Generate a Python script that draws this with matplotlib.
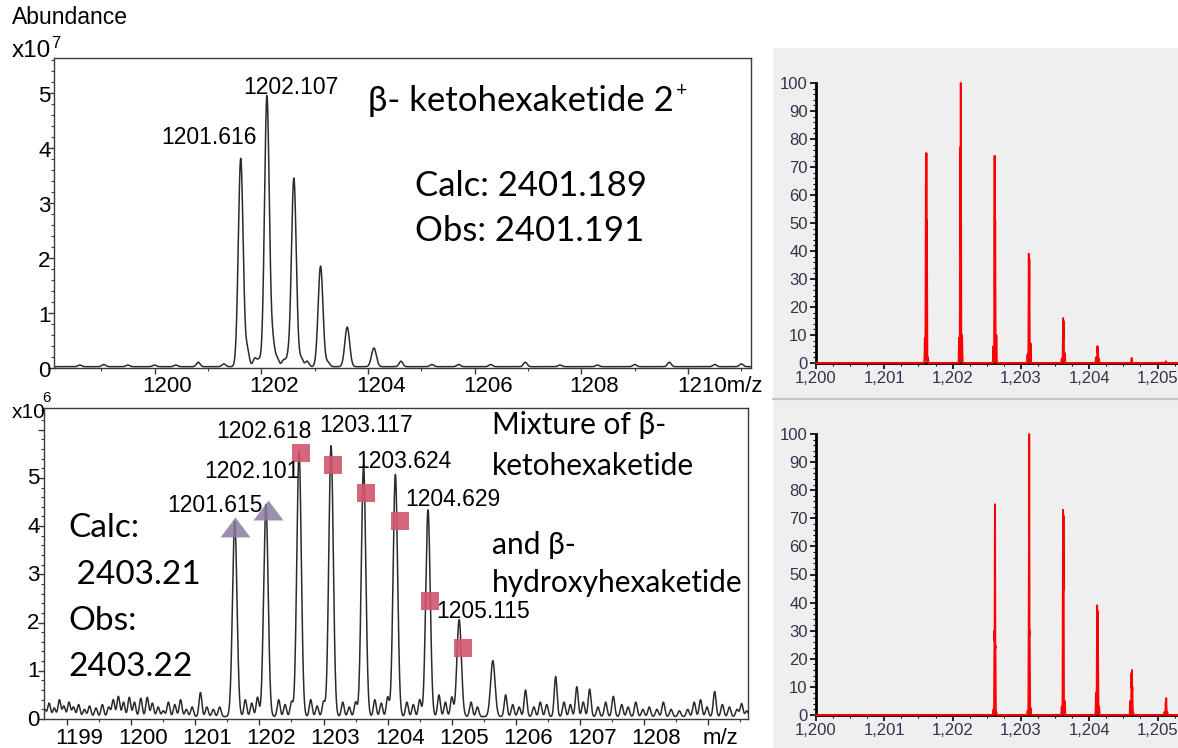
import numpy as np
import matplotlib
matplotlib.use("Agg")
import matplotlib.pyplot as plt
from matplotlib.patches import Rectangle
from matplotlib.lines import Line2D
from matplotlib.path import Path
from matplotlib.ticker import MultipleLocator, FixedLocator, NullFormatter, FuncFormatter

# ---------------- experimental spectrum: beta-ketohexaketide 2+ (abundance x1e7)
keto_peak_mz = [1201.616, 1202.107, 1202.612, 1203.112, 1203.612, 1204.112]
keto_peak_int = [3.79, 4.93, 3.43, 1.83, 0.72, 0.34]
keto_minor_mz = [1198.6, 1199.05, 1199.5, 1200.0, 1200.4, 1200.82, 1201.3,
                 1201.74, 1201.88, 1201.96, 1202.22, 1202.3, 1202.42, 1202.5,
                 1202.75, 1202.86, 1203.25, 1204.62, 1205.2, 1205.7, 1206.3,
                 1206.95, 1207.6, 1208.3, 1209.0, 1209.65, 1210.5, 1211.0]
keto_minor_int = [0.03, 0.04, 0.03, 0.03, 0.03, 0.08, 0.05,
                  0.30, 0.15, 0.12, 0.40, 0.15, 0.12, 0.14,
                  0.15, 0.10, 0.08, 0.10, 0.04, 0.04, 0.04,
                  0.08, 0.03, 0.03, 0.04, 0.08, 0.04, 0.05]
keto_label_mz = ["1201.616", "1202.107"]

# ---------------- experimental spectrum: keto / hydroxy mixture (abundance x1e6)
mix_peak_mz = [1201.615, 1202.101, 1202.618, 1203.117, 1203.624, 1204.12,
               1204.629, 1205.115, 1205.64]
mix_peak_int = [4.05, 4.40, 5.50, 5.62, 5.21, 5.02, 4.29, 2.01, 1.16]
mix_noise_mz = [1198.65, 1198.72, 1198.80, 1198.88, 1198.95, 1199.03, 1199.10,
                1199.18, 1199.27, 1199.35, 1199.45, 1199.55, 1199.65, 1199.72,
                1199.80, 1199.88, 1199.97, 1200.05, 1200.15, 1200.25, 1200.33,
                1200.42, 1200.50, 1200.58, 1200.68, 1200.77, 1200.86, 1200.95,
                1201.08, 1201.18, 1201.28, 1201.38,
                1201.78, 1201.88, 1201.97, 1202.30, 1202.40, 1202.50, 1202.80,
                1202.90, 1203.00, 1203.30, 1203.40, 1203.50, 1203.80, 1203.90,
                1204.00, 1204.30, 1204.40, 1204.50, 1204.80, 1204.90, 1205.00,
                1205.30, 1205.40,
                1205.84, 1205.95, 1206.05, 1206.15, 1206.28, 1206.38, 1206.48,
                1206.62, 1206.75, 1206.85, 1206.95, 1207.05, 1207.15, 1207.28,
                1207.40, 1207.52, 1207.65, 1207.75, 1207.87, 1207.98, 1208.08,
                1208.20, 1208.30, 1208.42, 1208.55, 1208.68, 1208.78, 1208.88,
                1208.98, 1209.10, 1209.22, 1209.33, 1209.45, 1209.52, 1209.60]
mix_noise_int = [0.15, 0.28, 0.18, 0.35, 0.22, 0.30, 0.20,
                 0.25, 0.15, 0.22, 0.18, 0.25, 0.20, 0.35,
                 0.42, 0.30, 0.40, 0.30, 0.38, 0.40, 0.28,
                 0.20, 0.12, 0.30, 0.25, 0.35, 0.15, 0.20,
                 0.50, 0.20, 0.15, 0.20,
                 0.35, 0.28, 0.40, 0.35, 0.25, 0.30, 0.35,
                 0.22, 0.30, 0.30, 0.20, 0.30, 0.35, 0.28,
                 0.40, 0.30, 0.25, 0.35, 0.45, 0.30, 0.40,
                 0.30, 0.20,
                 0.45, 0.25, 0.20, 0.55, 0.20, 0.30, 0.25,
                 0.83, 0.30, 0.25, 0.62, 0.30, 0.57, 0.20,
                 0.30, 0.42, 0.25, 0.20, 0.30, 0.15, 0.20,
                 0.15, 0.30, 0.15, 0.12, 0.15, 0.30, 0.35,
                 0.20, 0.52, 0.25, 0.20, 0.15, 0.27, 0.12]
mix_label_mz = ["1201.615", "1202.101", "1202.618", "1203.117",
                "1203.624", "1204.629", "1205.115"]
keto_marker_mz = [1201.62, 1202.14]
keto_marker_int = [3.98, 4.34]
hydroxy_marker_mz = [1202.65, 1203.15, 1203.66, 1204.19, 1204.66, 1205.18]
hydroxy_marker_int = [5.52, 5.27, 4.69, 4.11, 2.45, 1.47]

# ---------------- theoretical isotope patterns (relative abundance, %)
keto_theo_mz = [1201.594, 1201.609, 1201.616, 1201.623, 1201.638,
                1202.095, 1202.112, 1202.120, 1202.137,
                1202.596, 1202.615, 1202.623, 1202.640,
                1203.097, 1203.116, 1203.123, 1203.141,
                1203.598, 1203.618, 1203.625, 1203.642,
                1204.099, 1204.121, 1204.127, 1204.143,
                1204.622, 1205.123]
keto_theo_int = [9, 64, 75, 51, 2,
                 9, 77, 100, 10,
                 6, 74, 51, 10,
                 3, 39, 37, 7,
                 1.5, 16, 15, 3.5,
                 2, 6, 5.5, 1.5,
                 1.8, 0.6]
hydroxy_theo_mz = [1202.598, 1202.614, 1202.620, 1202.626, 1202.640,
                   1203.099, 1203.116, 1203.121, 1203.127, 1203.141,
                   1203.598, 1203.617, 1203.623, 1203.642,
                   1204.099, 1204.116, 1204.123, 1204.129, 1204.143,
                   1204.600, 1204.620, 1204.626, 1204.631, 1204.644,
                   1205.101, 1205.121, 1205.127, 1205.143]
hydroxy_theo_int = [2, 30, 75, 25, 1,
                    1.5, 38, 100, 30, 2.5,
                    3, 73, 71, 5,
                    8, 39, 37, 21, 3,
                    5, 15, 16, 10, 1,
                    1, 4.5, 6, 1]

W, H = 1178, 748
plt.rcParams["font.family"] = ["Liberation Sans", "DejaVu Sans"]
fig = plt.figure(figsize=(W / 100, H / 100), dpi=100)
PT = 0.72  # points per pixel at 100 dpi


def rect(l, t, r, b):
    return [l / W, 1 - b / H, (r - l) / W, (b - t) / H]


def fxy(x, y):
    return x / W, 1 - y / H


def summed(grid, centers, heights, sigma):
    c = np.asarray(centers, float)[:, None]
    h = np.asarray(heights, float)[:, None]
    return (h * np.exp(-0.5 * ((grid[None, :] - c) / sigma) ** 2)).sum(axis=0)


def envelope(grid, centers, heights, sigma):
    c = np.asarray(centers, float)[:, None]
    h = np.asarray(heights, float)[:, None]
    return (h * np.exp(-0.5 * ((grid[None, :] - c) / sigma) ** 2)).max(axis=0)


ann_font = ["Lato", "DejaVu Sans"]
LINE = "#2b2b2b"
FRAME = "#3a3a3a"

# ======================= top-left: experimental keto spectrum
ax1 = fig.add_axes(rect(54, 58, 751, 367.5))
x1 = np.linspace(1198.116, 1211.18, 8000)
y1 = (summed(x1, keto_peak_mz, keto_peak_int, 0.045)
      + summed(x1, keto_minor_mz, keto_minor_int, 0.035) + 0.015)
ax1.plot(x1, y1, color=LINE, lw=1.1)
ax1.set_xlim(1198.116, 1211.18)
ax1.set_ylim(0, 5.63)
ax1.xaxis.set_major_locator(FixedLocator([1200, 1202, 1204, 1206, 1208, 1210]))
ax1.xaxis.set_minor_locator(FixedLocator([1199, 1201, 1203, 1205, 1207, 1209, 1211]))
ax1.yaxis.set_major_locator(MultipleLocator(1))
ax1.yaxis.set_minor_locator(MultipleLocator(0.2))
ax1.xaxis.set_major_formatter(NullFormatter())
ax1.yaxis.set_major_formatter(NullFormatter())
ax1.tick_params(which="major", direction="out", length=4, width=1, color=FRAME)
ax1.tick_params(which="minor", direction="out", length=2.5, width=0.8, color=FRAME)
for s in ax1.spines.values():
    s.set_color(FRAME)
    s.set_linewidth(1.0)
for v in [1200, 1202, 1204, 1206, 1208]:
    ax1.annotate(str(v), xy=(v, 0), xycoords=("data", "axes fraction"),
                 xytext=(13 * PT, -19.5 * PT), textcoords="offset points",
                 ha="center", va="center", fontsize=16)
ax1.annotate("1210m/z", xy=(1210, 0), xycoords=("data", "axes fraction"),
             xytext=(-11 * PT, -19.5 * PT), textcoords="offset points",
             ha="left", va="center", fontsize=16)
for v in range(0, 6):
    ax1.annotate(str(v), xy=(0, v), xycoords=("axes fraction", "data"),
                 xytext=(-3.5 * PT, -4 * PT), textcoords="offset points",
                 ha="right", va="center", fontsize=16)

fig.text(*fxy(12, 18), "Abundance", fontsize=16.5, va="center", ha="left")
fig.text(*fxy(12, 51), "x10", fontsize=17.5, va="center", ha="left")
fig.text(*fxy(51, 43), "7", fontsize=12, va="center", ha="left")

fig.text(*fxy(209, 138), keto_label_mz[0], fontsize=16.5, ha="center", va="center")
fig.text(*fxy(291, 87), keto_label_mz[1], fontsize=16.5, ha="center", va="center")

title_txt = fig.text(*fxy(368, 101), "β- ketohexaketide 2", fontsize=25,
                     family=ann_font, ha="left", va="center")
renderer = fig.canvas.get_renderer()
tb = title_txt.get_window_extent(renderer)
fig.text((tb.x1 + 2) / W, 1 - 90 / H, "+", fontsize=14, family=ann_font,
         ha="left", va="center")
fig.text(*fxy(415, 186), "Calc: 2401.189", fontsize=25, family=ann_font,
         ha="left", va="center")
fig.text(*fxy(415, 231), "Obs: 2401.191", fontsize=25, family=ann_font,
         ha="left", va="center")

# ======================= bottom-left: experimental mixture spectrum
ax2 = fig.add_axes(rect(44, 408, 748, 719))
x2 = np.linspace(1198.64, 1209.62, 8000)
y2 = (summed(x2, mix_peak_mz, mix_peak_int, 0.035)
      + summed(x2, mix_noise_mz, mix_noise_int, 0.022) + 0.05)
ax2.plot(x2, y2, color=LINE, lw=1.1, zorder=2)
ax2.set_xlim(1198.64, 1209.62)
ax2.set_ylim(0, 6.45)
ax2.xaxis.set_major_locator(MultipleLocator(1))
ax2.xaxis.set_minor_locator(MultipleLocator(0.5))
ax2.yaxis.set_major_locator(MultipleLocator(1))
ax2.yaxis.set_minor_locator(MultipleLocator(0.2))
ax2.xaxis.set_major_formatter(NullFormatter())
ax2.yaxis.set_major_formatter(NullFormatter())
ax2.tick_params(which="major", direction="out", length=4, width=1, color=FRAME)
ax2.tick_params(which="minor", direction="out", length=2.5, width=0.8, color=FRAME)
for s in ax2.spines.values():
    s.set_color(FRAME)
    s.set_linewidth(1.0)
for v in range(1199, 1210):
    lab = "m/z" if v == 1209 else str(v)
    ax2.annotate(lab, xy=(v, 0), xycoords=("data", "axes fraction"),
                 xytext=(12 * PT, -19 * PT), textcoords="offset points",
                 ha="center", va="center", fontsize=16)
for v in range(0, 6):
    ax2.annotate(str(v), xy=(0, v), xycoords=("axes fraction", "data"),
                 xytext=(-4.5 * PT, -1 * PT), textcoords="offset points",
                 ha="right", va="center", fontsize=16)

tri = Path([(-1.5, -1), (1.5, -1), (0, 1), (-1.5, -1)],
           [Path.MOVETO, Path.LINETO, Path.LINETO, Path.CLOSEPOLY])
ax2.plot(keto_marker_mz, keto_marker_int, ls="none", marker=tri,
         markersize=30 * PT, color="#8c7da0", alpha=0.85, mew=0, zorder=3)
ax2.plot(hydroxy_marker_mz, hydroxy_marker_int, ls="none", marker="s",
         markersize=18 * PT, color="#d2556e", alpha=0.9, mew=0, zorder=3)

fig.text(*fxy(12, 413), "x10", fontsize=15, va="center", ha="left")
fig.text(*fxy(42, 398), "6", fontsize=11, va="center", ha="left")

mix_label_px = [(215, 506), (252, 471), (264, 431), (366, 425),
                (404, 461), (453, 500), (483, 612)]
for lab, (px, py) in zip(mix_label_mz, mix_label_px):
    fig.text(*fxy(px, py), lab, fontsize=16.5, ha="center", va="center")

for txt, py in [("Mixture of β-", 425), ("ketohexaketide", 466),
                ("and β-", 545), ("hydroxyhexaketide", 583)]:
    fig.text(*fxy(492, py), txt, fontsize=21.5, family=ann_font,
             ha="left", va="center")
for txt, py in [("Calc:", 528), (" 2403.21", 575), ("Obs:", 621), ("2403.22", 667)]:
    fig.text(*fxy(68, py), txt, fontsize=24, family=ann_font,
             ha="left", va="center")

# ======================= right: theoretical isotope patterns
fig.add_artist(Rectangle(fxy(773, 748), (W - 773) / W, (748 - 48) / H,
                         transform=fig.transFigure, facecolor="#efefef",
                         edgecolor="none", zorder=0))
fig.add_artist(Line2D([773 / W, 1.0], [1 - 399 / H, 1 - 399 / H],
                      transform=fig.transFigure, color="#c4c4c4", lw=1.6))

RLAB = "#33334a"
xr = np.arange(1200.0, 1205.3, 0.0005)


def theo_panel(top100, bottom0, mz, inten):
    scale = (bottom0 - top100) / 100.0
    ax = fig.add_axes(rect(816, top100 - 1.2 * scale, 1178, bottom0))
    ax.set_facecolor("none")
    ax.set_xlim(1200, 1200 + (1178 - 816) / 68.3)
    ax.set_ylim(0, 101.2)
    yr = envelope(xr, mz, inten, 0.003)
    ax.plot(xr, yr, color="#ff0000", lw=1.4, zorder=4, clip_on=False)
    for k in ("top", "right"):
        ax.spines[k].set_visible(False)
    for k in ("left", "bottom"):
        ax.spines[k].set_color("black")
        ax.spines[k].set_linewidth(2.0)
    ax.spines["left"].set_bounds(0, 100)
    ax.xaxis.set_major_locator(MultipleLocator(1))
    ax.xaxis.set_minor_locator(MultipleLocator(0.25))
    ax.yaxis.set_major_locator(FixedLocator(list(range(0, 101, 10))))
    ax.yaxis.set_minor_locator(FixedLocator(list(range(0, 101, 2))))
    ax.xaxis.set_major_formatter(FuncFormatter(lambda v, p: f"{v:,.0f}"))
    ax.tick_params(which="major", direction="out", length=4, width=1.2,
                   color="black", labelsize=12, labelcolor=RLAB, pad=2)
    ax.tick_params(which="minor", direction="out", length=2, width=0.8,
                   color="black")
    for lab in ax.get_xticklabels() + ax.get_yticklabels():
        lab.set_family(["Liberation Sans Narrow", "Liberation Sans"])
    return ax


theo_panel(83, 363, keto_theo_mz, keto_theo_int)
theo_panel(434, 715, hydroxy_theo_mz, hydroxy_theo_int)

fig.savefig("out.png", dpi=100)
